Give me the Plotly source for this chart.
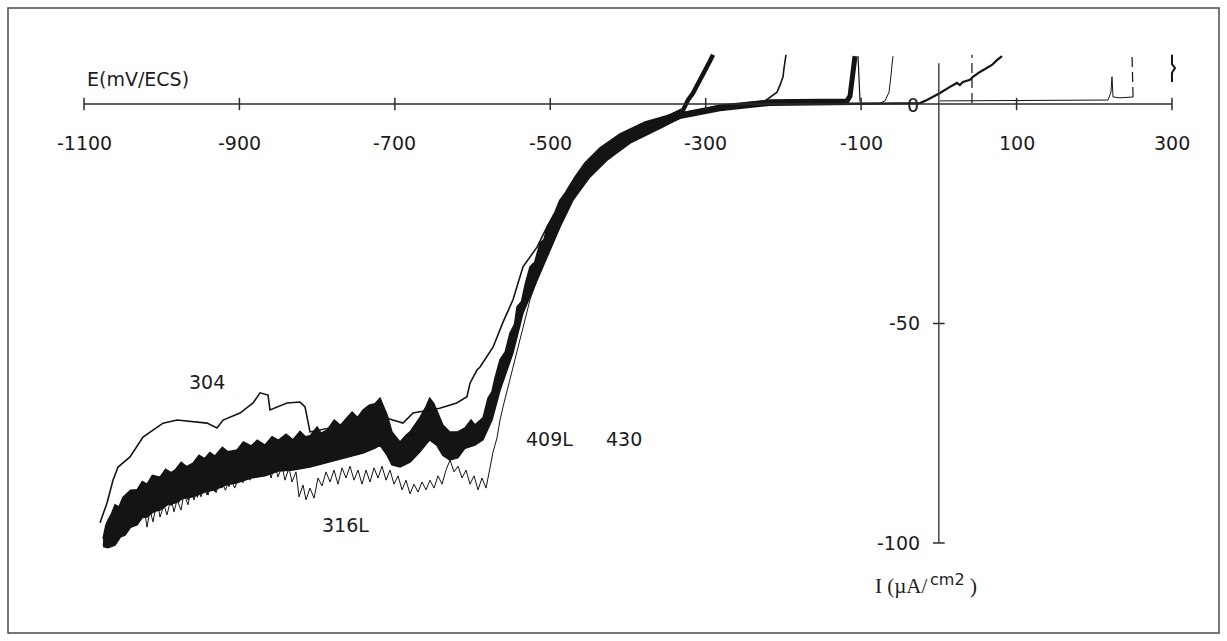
import plotly.graph_objects as go

# ---------------- data (E in mV/ECS, I in uA/cm2) ----------------
# envelope of the dense overlapping scans (409L / 430 band)
band_upper_E = [-1075.5, -1072.0, -1069.1, -1065.0, -1060.1, -1055.0, -1050.0, -1047.2, -1040.0, -1031.8,
                -1025.0, -1018.9, -1012.0, -1002.2, -995.0, -988.0, -982.9, -975.0, -968.0, -959.7,
                -952.0, -945.0, -938.0, -931.4, -922.0, -915.0, -903.1, -895.0, -885.0, -877.0,
                -867.1, -858.0, -850.0, -840.0, -831.1, -822.0, -815.0, -809.2, -800.0, -795.0,
                -787.3, -778.0, -770.0, -764.1, -755.0, -748.0, -741.0, -733.0, -725.5, -719.1,
                -714.0, -710.1, -703.7, -693.4, -686.0, -680.5, -668.0, -660.0, -655.2, -650.0,
                -646.2, -638.4, -629.4, -619.1, -609.7, -602.0, -596.9, -586.6, -580.1, -575.0,
                -571.1, -564.7, -558.0, -551.8, -546.0, -542.8, -537.0, -532.5, -526.1, -520.0,
                -513.2, -508.0, -504.2, -493.9, -488.0, -481.0, -468.2, -455.3, -436.0, -410.3,
                -378.1, -333.1]
band_upper_I = [-99.0, -96.0, -94.8, -93.5, -91.3, -91.8, -89.6, -89.1, -88.0, -87.9,
                -86.0, -86.6, -84.6, -85.0, -83.2, -84.0, -83.4, -81.6, -82.6, -81.8,
                -80.0, -80.8, -79.4, -80.2, -78.2, -79.2, -78.8, -77.0, -77.9, -76.6,
                -77.7, -75.8, -76.6, -75.2, -76.5, -74.6, -75.8, -75.6, -73.6, -75.0,
                -74.3, -72.0, -73.2, -72.0, -70.2, -71.4, -69.7, -68.6, -68.3, -67.0,
                -69.0, -70.8, -74.7, -77.0, -75.5, -74.7, -71.5, -69.0, -67.0, -68.2,
                -69.7, -73.1, -74.7, -74.7, -73.8, -72.0, -73.1, -71.5, -67.0, -65.5,
                -62.4, -58.3, -56.5, -52.2, -50.2, -46.2, -45.0, -41.2, -37.1, -36.0,
                -31.7, -30.8, -28.0, -24.6, -22.0, -20.3, -16.6, -13.4, -10.0, -6.8,
                -4.1, -1.8]
band_lower_E = [-1075.5, -1069.1, -1060.1, -1053.0, -1047.2, -1040.0, -1031.8, -1025.0, -1018.9, -1010.0,
                -1002.2, -992.0, -982.9, -972.0, -959.7, -945.0, -931.4, -918.0, -903.1, -885.0,
                -867.1, -850.0, -831.1, -809.2, -787.3, -764.1, -741.0, -725.5, -719.1, -710.1,
                -703.7, -693.4, -680.5, -668.0, -655.2, -646.2, -638.4, -629.4, -619.1, -609.7,
                -596.9, -586.6, -575.0, -564.7, -548.0, -535.1, -517.1, -504.2, -487.5, -470.8,
                -448.9, -427.0, -397.4, -354.9, -333.1]
band_lower_I = [-100.8, -101.1, -100.5, -98.6, -98.2, -96.4, -95.9, -94.2, -94.1, -92.8,
                -92.5, -91.2, -90.9, -89.8, -89.5, -88.4, -87.9, -86.8, -86.3, -85.2,
                -84.7, -83.6, -83.4, -82.7, -81.8, -80.6, -79.5, -78.4, -77.7, -80.0,
                -82.2, -82.7, -81.6, -79.3, -76.5, -77.7, -80.0, -81.1, -80.6, -78.4,
                -77.7, -76.5, -72.0, -65.2, -56.7, -47.6, -40.1, -34.9, -28.0, -21.9,
                -16.6, -12.8, -8.9, -5.2, -3.2]

# individual noisy scan seen at the lower edge of the band
hatch_E = [-1073.0, -1070.0, -1067.0, -1063.0, -1060.0, -1056.0, -1052.0, -1048.0, -1044.0, -1040.0,
           -1036.0, -1031.0, -1027.0, -1022.0, -1018.0, -1013.0, -1008.0, -1003.0, -998.0, -993.0,
           -988.0, -983.0, -978.0, -972.0, -966.0, -960.0, -954.0, -948.0, -942.0, -936.0,
           -930.0, -924.0, -918.0, -912.0, -906.0, -900.0]
hatch_I = [-99.5, -96.0, -99.0, -95.5, -98.5, -94.5, -97.5, -93.5, -96.5, -92.5,
           -95.5, -91.8, -94.5, -91.0, -93.8, -90.2, -93.0, -89.5, -92.2, -88.8,
           -91.5, -88.2, -90.8, -87.5, -90.2, -87.0, -89.6, -86.4, -89.0, -85.9,
           -88.5, -85.4, -88.0, -85.0, -87.5, -84.6]

# 409L (thick) : end of the band, along the axis, pit at about -110 mV
c409_E = [-468.2, -436.0, -410.3, -378.1, -333.1, -281.6, -217.3, -152.9, -118.2, -114.3, -111.7, -110.4, -107.9]
c409_I = [-18.5, -11.4, -8.0, -5.0, -2.5, -0.7, 0.5, 0.7, 0.7, 1.8, 5.5, 8.2, 10.9]

# 430 (thick) : pit at about -330 mV
c430_E = [-468.2, -436.0, -410.3, -378.1, -329.2, -322.8, -316.3, -311.2, -307.3, -302.2, -298.3, -294.5, -290.6]
c430_I = [-19.6, -12.1, -8.7, -5.5, -1.4, 0.9, 2.5, 4.1, 5.5, 7.3, 8.4, 9.8, 11.2]

# 304 (thin)
c304_E = [-1079.4, -1070.4, -1062.7, -1056.2, -1040.8, -1031.8, -1024.1, -1011.2, -998.3, -980.3,
          -959.7, -941.7, -928.9, -921.1, -899.3, -882.5, -873.5, -863.2, -860.7, -838.8,
          -822.1, -815.6, -809.2, -783.4, -744.8, -715.3, -689.5, -676.6, -642.3, -620.4,
          -607.2, -603.3, -594.3, -590.4, -573.7, -560.8, -548.0, -535.1, -517.1, -504.2,
          -487.5, -468.2, -436.0, -384.5, -333.1, -281.6, -223.7, -217.3, -208.2, -204.4,
          -200.5, -199.2, -196.7]
c304_I = [-95.4, -90.9, -85.7, -82.7, -80.4, -78.1, -75.9, -74.3, -72.7, -72.0,
          -72.4, -72.7, -73.8, -72.0, -70.4, -68.1, -65.8, -66.3, -69.7, -68.1,
          -67.9, -69.0, -74.7, -73.8, -72.2, -71.3, -72.7, -70.4, -69.3, -68.1,
          -66.7, -63.6, -60.6, -59.9, -55.4, -49.7, -44.6, -37.1, -32.6, -28.0,
          -23.0, -17.3, -10.5, -4.8, -2.1, -0.5, 0.7, 1.6, 2.7, 4.3,
          6.2, 8.2, 11.2]

# 316L (thin, noisy)
c316_E = [-1075.5, -1071.7, -1069.1, -1066.5, -1062.7, -1058.8, -1055.0, -1051.1, -1046.0, -1042.1,
          -1036.9, -1031.8, -1027.9, -1022.8, -1018.9, -1015.1, -1011.2, -1006.1, -1002.2, -997.1,
          -993.2, -988.0, -984.2, -980.3, -975.2, -971.3, -966.2, -962.3, -958.5, -953.3,
          -949.4, -944.3, -940.4, -935.3, -931.4, -926.3, -922.4, -917.3, -913.4, -908.3,
          -904.4, -899.3, -895.4, -890.3, -886.4, -881.2, -877.4, -872.2, -868.4, -863.2,
          -859.4, -854.2, -850.4, -845.2, -841.4, -836.2, -832.4, -827.2, -823.3, -818.2,
          -814.3, -809.2, -804.0, -798.9, -793.7, -788.6, -783.4, -778.3, -773.2, -768.0,
          -762.9, -757.7, -752.6, -747.4, -742.3, -737.1, -732.0, -726.8, -721.7, -716.5,
          -711.4, -706.2, -701.1, -695.9, -690.8, -685.6, -680.5, -675.4, -670.2, -665.1,
          -659.9, -654.8, -649.6, -644.5, -639.3, -634.2, -629.0, -623.9, -618.7, -613.6,
          -608.4, -603.3, -598.1, -593.0, -587.9, -582.7, -577.6, -573.7, -568.6, -564.7,
          -560.8, -526.1, -487.5, -436.0, -333.1, -217.3, -75.7, -69.3, -64.1, -62.8,
          -61.5, -60.3, -59.0]
c316_I = [-100.5, -97.0, -98.9, -95.2, -97.0, -92.9, -95.2, -92.0, -94.8, -91.3,
          -93.6, -90.7, -94.8, -92.0, -96.4, -92.5, -95.2, -90.2, -94.1, -91.3,
          -93.6, -89.8, -92.9, -90.2, -92.5, -88.8, -91.3, -87.9, -90.2, -87.0,
          -89.5, -86.6, -89.1, -85.7, -88.4, -85.2, -87.5, -84.3, -87.2, -83.8,
          -86.6, -83.4, -86.3, -82.9, -85.7, -82.7, -85.0, -82.2, -84.7, -81.6,
          -85.2, -82.2, -85.0, -82.5, -85.7, -82.9, -86.1, -83.8, -89.5, -86.8,
          -90.2, -87.5, -89.8, -85.2, -87.0, -83.8, -86.1, -83.4, -86.6, -82.9,
          -85.2, -82.5, -85.7, -83.4, -86.6, -83.4, -86.1, -82.9, -85.2, -82.5,
          -85.7, -83.4, -86.6, -84.7, -87.9, -85.7, -88.8, -86.6, -88.4, -86.1,
          -87.9, -85.7, -87.5, -84.7, -86.6, -83.4, -81.1, -83.8, -82.5, -85.2,
          -83.4, -86.6, -84.7, -87.9, -85.2, -87.5, -82.9, -79.3, -76.1, -72.0,
          -69.0, -44.6, -25.3, -12.3, -2.7, 0.2, 0.2, 0.7, 2.7, 4.3,
          6.6, 8.9, 10.9]

# scan running along the axis, rising at about -24 mV
cF_E = [-436.0, -384.5, -333.1, -281.6, -217.3, -114.3, -50.0, -24.2, -15.2, -7.5,
        1.5, 14.3, 23.4, 27.0, 31.1, 40.1, 43.9, 52.9, 61.9, 68.4, 74.8, 81.3]
cF_I = [-12.8, -7.1, -3.2, -1.4, -0.2, 0.0, 0.0, 0.2, 0.9, 1.6,
        2.5, 3.9, 4.8, 4.3, 5.0, 5.5, 6.2, 7.3, 8.2, 8.9, 10.0, 10.9]

# second thin branch near -105 mV
cC2_E = [-101.4, -102.7, -104.0]
cC2_I = [0.5, 7.1, 10.9]

# dashed vertical near +43 mV
cG_E = [42.6, 42.6]
cG_I = [0.2, 11.2]

# thin scan along the axis up to +250 mV
cH_E = [1.5, 78.7, 155.9, 217.7, 221.5, 222.8, 224.1, 233.1, 249.9]
cH_I = [0.7, 0.8, 0.9, 0.9, 2.7, 6.2, 1.6, 1.4, 1.6]
cH2_E = [249.9, 248.6]
cH2_I = [1.6, 11.2]

# short piece at +300 mV
cI_E = [300.0, 300.0, 303.9, 300.0, 300.0]
cI_I = [5.0, 7.1, 8.2, 9.1, 11.2]

# axis ticks and labels
x_ticks = [-1100, -900, -700, -500, -300, -100, 100, 300]
x_tick_labels = ["-1100", "-900", "-700", "-500", "-300", "-100", "100", "300"]
y_ticks = [-50, -100]
y_tick_labels = ["-50", "-100"]

# curve labels: (text, E, I)
curve_labels = [("304", -941.7, -63.3), ("316L", -764.1, -95.9),
                ("409L", -500.4, -76.2), ("430", -405.1, -76.2)]

# ---------------- figure ----------------
INK = "#141414"
fig = go.Figure()

fig.add_trace(go.Scatter(
    x=band_upper_E + band_lower_E[::-1], y=band_upper_I + band_lower_I[::-1],
    mode="lines", fill="toself", fillcolor=INK, line=dict(color=INK, width=1.5),
    name="409L/430 band", hoverinfo="skip"))

def add_line(xs, ys, width, name, dash="solid"):
    fig.add_trace(go.Scatter(x=xs, y=ys, mode="lines", name=name,
                             line=dict(color=INK, width=width, dash=dash),
                             hoverinfo="skip"))

add_line(hatch_E, hatch_I, 1.0, "scan (hatch)")
add_line(c316_E, c316_I, 1.0, "316L")
add_line(c304_E, c304_I, 1.6, "304")
add_line(cF_E, cF_I, 2.2, "scan F")
add_line(cC2_E, cC2_I, 1.2, "scan C2")
add_line(cG_E, cG_I, 1.2, "scan G", dash="10px,5px")
add_line(cH_E, cH_I, 1.0, "scan H")
add_line(cH2_E, cH2_I, 1.2, "scan H2", dash="10px,5px")
add_line(cI_E, cI_I, 2.0, "scan I")
add_line(c409_E, c409_I, 5.0, "409L")
add_line(c430_E, c430_I, 4.5, "430")

AX = "#2b2b2b"
shapes = []
# horizontal axis (E) at I = 0
shapes.append(dict(type="line", xref="x", yref="y", x0=-1100, x1=300, y0=0, y1=0,
                   line=dict(color=AX, width=1.5)))
for t in x_ticks:
    shapes.append(dict(type="line", xref="x", yref="y", x0=t, x1=t, y0=-1.4, y1=1.4,
                       line=dict(color=AX, width=1.5)))
# vertical axis (I) at E = 0
shapes.append(dict(type="line", xref="x", yref="y", x0=0, x1=0, y0=9.3, y1=-100,
                   line=dict(color=AX, width=1.3)))
for t in y_ticks:
    shapes.append(dict(type="line", xref="x", yref="y", x0=-7.5, x1=7.5, y0=t, y1=t,
                       line=dict(color=AX, width=1.5)))
# frame
shapes.append(dict(type="rect", xref="paper", yref="paper",
                   x0=8 / 1227, x1=1219 / 1227, y0=1 - 633 / 641, y1=1 - 8 / 641,
                   line=dict(color="#4a4a4a", width=1.5)))

annotations = []
FONT = dict(family="DejaVu Sans", size=19, color="#1c1c1c")
for t, lab in zip(x_ticks, x_tick_labels):
    annotations.append(dict(x=t, y=-8.9, xref="x", yref="y", text=lab, showarrow=False,
                            xanchor="center", yanchor="middle", font=FONT))
for t, lab in zip(y_ticks, y_tick_labels):
    annotations.append(dict(x=-22.0, y=t, xref="x", yref="y", text=lab, showarrow=False,
                            xanchor="right", yanchor="middle", font=FONT))
annotations.append(dict(x=-33.9, y=-0.2, xref="x", yref="y", text="0", showarrow=False,
                        xanchor="center", yanchor="middle", font=FONT))
for txt, ex, iy in curve_labels:
    annotations.append(dict(x=ex, y=iy, xref="x", yref="y", text=txt, showarrow=False,
                            xanchor="center", yanchor="middle", font=FONT))
annotations.append(dict(x=-1098.7, y=5.7, xref="x", yref="y", text="E(mV/ECS)", showarrow=False,
                        xanchor="left", yanchor="middle",
                        font=dict(family="DejaVu Sans", size=19, color="#1c1c1c")))
# current unit label
annotations.append(dict(x=-84.7, y=-109.9, xref="x", yref="y", text="I (µA/", showarrow=False,
                        xanchor="left", yanchor="middle",
                        font=dict(family="Liberation Serif", size=21, color="#1c1c1c")))
annotations.append(dict(x=-14.0, y=-108.3, xref="x", yref="y", text="cm2", showarrow=False,
                        xanchor="left", yanchor="middle",
                        font=dict(family="DejaVu Sans", size=16, color="#1c1c1c")))
annotations.append(dict(x=38.0, y=-109.9, xref="x", yref="y", text=")", showarrow=False,
                        xanchor="left", yanchor="middle",
                        font=dict(family="Liberation Serif", size=21, color="#1c1c1c")))

fig.update_layout(
    width=1227, height=641,
    margin=dict(l=0, r=0, t=0, b=0),
    paper_bgcolor="white", plot_bgcolor="white",
    showlegend=False,
    xaxis=dict(range=[-1208.1, 370.8], visible=False, fixedrange=True),
    yaxis=dict(range=[-122.33, 23.69], visible=False, fixedrange=True),
    shapes=shapes, annotations=annotations,
)

fig.write_html("out.html")
